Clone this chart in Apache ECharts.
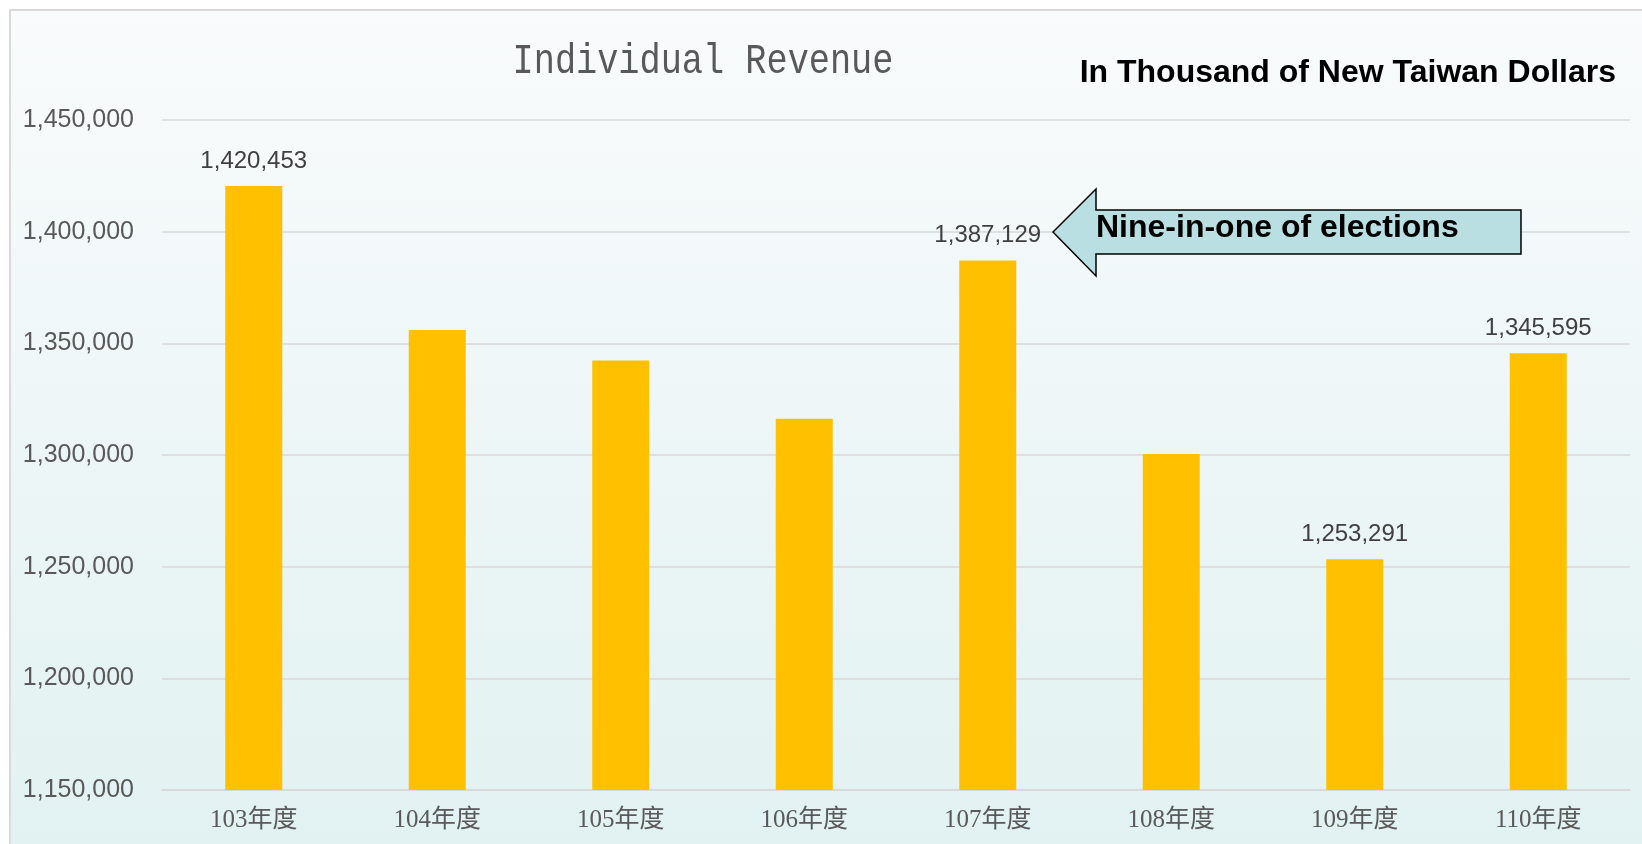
<!DOCTYPE html>
<html>
<head>
<meta charset="utf-8">
<script src="https://cdn.jsdelivr.net/npm/echarts@6/dist/echarts.min.js"></script>
<style>
  html, body { margin: 0; padding: 0; background: #ffffff; }
  #main { width: 1642px; height: 844px; }
</style>
</head>
<body>
<div id="main"></div>
<script>
// chart data
const years = ["103年度", "104年度", "105年度", "106年度", "107年度", "108年度", "109年度", "110年度"];
const revenue = [1420453, 1356000, 1342300, 1316200, 1387129, 1300500, 1253291, 1345595];
const labelled = [true, false, false, false, true, false, true, true];
const yTicks = { min: 1150000, max: 1450000, step: 50000 };

const fmt = v => v.toLocaleString("en-US");

var myChart = echarts.init(document.getElementById("main"));

const barData = revenue.map((v, i) => ({
  value: v,
  label: { show: labelled[i] }
}));

myChart.setOption({
  animation: false,
  graphic: [
    {
      // panel background + frame
      type: "rect",
      z: -10,
      silent: true,
      shape: { x: 10, y: 10, width: 1660, height: 860 },
      style: {
        fill: {
          type: "linear", x: 0, y: 0, x2: 0, y2: 1,
          colorStops: [
            { offset: 0, color: "#f9fbfc" },
            { offset: 1, color: "#e1f1f1" }
          ]
        },
        stroke: "#d9d9d9",
        lineWidth: 2
      }
    },
    {
      // title, narrow tall glyphs
      type: "text",
      x: 703,
      y: 62,
      scaleX: 0.82,
      style: {
        text: "Individual Revenue",
        font: "43px 'Liberation Mono'",
        fill: "#595959",
        textAlign: "center",
        verticalAlign: "middle"
      }
    },
    {
      type: "text",
      x: 1616,
      y: 73,
      style: {
        text: "In Thousand of New Taiwan Dollars",
        font: "bold 32px 'Liberation Sans', Arial",
        fill: "#000000",
        textAlign: "right",
        verticalAlign: "middle"
      }
    },
    {
      // callout arrow
      type: "polygon",
      z: 10,
      shape: {
        points: [[1053, 232], [1096, 189], [1096, 210], [1521, 210], [1521, 254], [1096, 254], [1096, 276]]
      },
      style: { fill: "#b9dfe3", stroke: "#000000", lineWidth: 1.5 }
    },
    {
      type: "text",
      z: 11,
      x: 1096,
      y: 228,
      style: {
        text: "Nine-in-one of elections",
        font: "bold 32px 'Liberation Sans', Arial",
        fill: "#000000",
        verticalAlign: "middle"
      }
    }
  ],
  grid: {
    left: 162,
    right: 12,
    top: 120,
    bottom: 54
  },
  xAxis: {
    type: "category",
    data: years,
    axisTick: { show: false },
    axisLine: { lineStyle: { color: "#d9d9d9", width: 2 } },
    axisLabel: {
      margin: 18,
      fontSize: 25,
      fontFamily: "'Liberation Serif', 'Noto Sans CJK TC'",
      color: "#595959"
    }
  },
  yAxis: {
    type: "value",
    min: yTicks.min,
    max: yTicks.max,
    interval: yTicks.step,
    axisLine: { show: false },
    axisTick: { show: false },
    splitLine: { lineStyle: { color: "#d9d9d9", width: 1.5 } },
    axisLabel: {
      margin: 28,
      fontSize: 25,
      fontFamily: "'Liberation Sans', Arial",
      color: "#595959",
      formatter: fmt
    }
  },
  series: [
    {
      type: "bar",
      data: barData,
      barWidth: 57,
      itemStyle: { color: "#FFC000" },
      label: {
        position: "top",
        distance: 13,
        fontSize: 24,
        fontFamily: "'Liberation Sans', Arial",
        color: "#404040",
        formatter: p => fmt(p.value)
      }
    }
  ]
});
</script>
</body>
</html>
